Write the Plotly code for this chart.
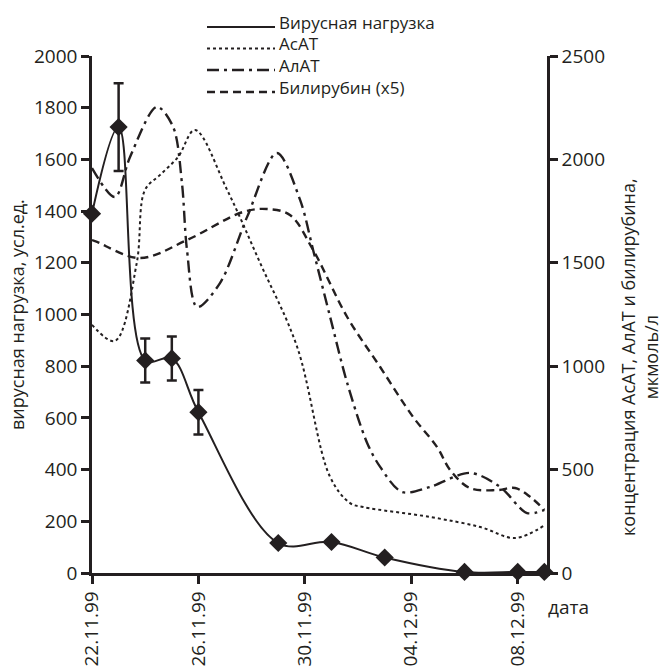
import plotly.graph_objects as go

# ---- data (x = days since 22.11.99) ----
tick_days = [0, 4, 8, 12, 16]
tick_labels = ["22.11.99", "26.11.99", "30.11.99", "04.12.99", "08.12.99"]

virus_days = [0, 1, 2, 3, 4, 7, 9, 11, 14, 16, 17]
virus_load = [1390, 1725, 822, 830, 622, 116, 120, 60, 4, 4, 4]
virus_err = [0, 170, 85, 85, 86, 0, 0, 0, 0, 0, 0]

asat_days = [0, 0.86, 1.68, 1.99, 2.56, 3.24, 3.87, 5.08, 6.32, 7.71, 8.95, 9.7, 10.19, 12.7, 14.6, 15.9, 17]
asat_vals = [1200, 1122, 1498, 1852, 1925, 2013, 2142, 1852, 1499, 1093, 464, 338, 319, 271, 222, 169, 230]

alat_days = [0, 0.86, 1.43, 2.44, 3.05, 3.38, 3.57, 3.95, 4.81, 5.83, 6.95, 7.82, 8.31, 8.95, 9.59, 10.34, 10.83, 11.65, 12.7, 14.2, 15.34, 16.35, 17]
alat_vals = [1958, 1818, 2012, 2254, 2157, 1886, 1562, 1286, 1402, 1722, 2031, 1804, 1562, 1238, 919, 629, 513, 392, 416, 484, 416, 290, 305]

bili_days = [0, 0.19, 1.8, 3.57, 5.68, 6.58, 7.44, 8.31, 9.59, 10.83, 12.07, 12.97, 13.46, 14.2, 15.23, 15.9, 16.47, 17]
bili_vals = [1610, 1601, 1523, 1610, 1746, 1760, 1731, 1562, 1238, 996, 754, 609, 498, 411, 401, 411, 368, 305]

series_names = ["Вирусная нагрузка", "АсАТ", "АлАТ", "Билирубин (x5)"]

INK = "#231f20"
FONT = "Open Sans"

styles = [
    dict(color=INK, width=2),
    dict(color=INK, width=2, dash="dot"),
    dict(color=INK, width=2.4, dash="12px,5px,3px,5px"),
    dict(color=INK, width=2.4, dash="8px,5px"),
]

fig = go.Figure()

fig.add_trace(go.Scatter(
    x=virus_days, y=virus_load, mode="lines", name=series_names[0],
    line=dict(**styles[0], shape="spline", smoothing=1.0), cliponaxis=False))
fig.add_trace(go.Scatter(
    x=asat_days, y=asat_vals, mode="lines", name=series_names[1], yaxis="y2",
    line=dict(**styles[1], shape="spline", smoothing=1.0)))
fig.add_trace(go.Scatter(
    x=alat_days, y=alat_vals, mode="lines", name=series_names[2], yaxis="y2",
    line=dict(**styles[2], shape="spline", smoothing=0.9)))
fig.add_trace(go.Scatter(
    x=bili_days, y=bili_vals, mode="lines", name=series_names[3], yaxis="y2",
    line=dict(**styles[3], shape="spline", smoothing=1.0)))
fig.add_trace(go.Scatter(
    x=virus_days, y=virus_load, mode="markers", name=series_names[0],
    marker=dict(symbol="diamond", size=14, color=INK),
    error_y=dict(type="data", array=virus_err, color=INK, thickness=2.5, width=5),
    cliponaxis=False))

axis_common = dict(showline=True, linewidth=2.5, linecolor=INK, ticks="outside",
                   ticklen=8, tickwidth=2.5, tickcolor=INK, showgrid=False,
                   zeroline=False, automargin=False,
                   tickfont=dict(family=FONT, size=19, color=INK))

# plot area in pixels: x 92..547, y 56..573
L, R, T, B = 92, 547, 56, 573
def px_x(p):
    return (p - L) / (R - L)
def px_y(p):
    return (B - p) / (B - T)

# hand-drawn legend (samples + labels) placed above the plot
legend_text_y = [22, 43.5, 65, 87]
shapes = []
annotations = []
for i, name in enumerate(series_names):
    ly = legend_text_y[i] + 5
    shapes.append(dict(type="line", xref="paper", yref="paper",
                       x0=px_x(207), x1=px_x(275), y0=px_y(ly), y1=px_y(ly),
                       line=styles[i]))
    annotations.append(dict(text=name, xref="paper", yref="paper",
                            x=px_x(277), y=px_y(legend_text_y[i]),
                            xanchor="left", yanchor="middle", showarrow=False,
                            font=dict(family=FONT, size=17, color=INK)))

annotations += [
    dict(text="вирусная нагрузка, усл.ед.", xref="paper", yref="paper",
         x=px_x(17), y=px_y(315), xanchor="center", yanchor="middle", textangle=-90,
         showarrow=False, font=dict(family=FONT, size=18, color=INK)),
    dict(text="концентрация АсАТ, АлАТ и билирубина,<br>мкмоль/л",
         xref="paper", yref="paper", x=px_x(639), y=px_y(357), xanchor="center",
         yanchor="middle", textangle=-90,
         showarrow=False, font=dict(family=FONT, size=18, color=INK)),
    dict(text="дата", xref="paper", yref="paper", x=px_x(568), y=px_y(607),
         xanchor="center", yanchor="middle",
         showarrow=False, font=dict(family=FONT, size=19, color=INK)),
]

fig.update_layout(
    width=662, height=670,
    margin=dict(l=L, r=662 - R, t=T, b=670 - B),
    paper_bgcolor="white", plot_bgcolor="white",
    font=dict(family=FONT, size=17, color=INK),
    xaxis=dict(range=[0, 17.1], tickvals=tick_days, ticktext=tick_labels,
               tickangle=-90, **axis_common),
    yaxis=dict(range=[0, 2000], dtick=200, **axis_common),
    yaxis2=dict(range=[0, 2500], dtick=500, overlaying="y", side="right", **axis_common),
    showlegend=False,
    shapes=shapes,
    annotations=annotations,
)

fig.write_html("out.html")
